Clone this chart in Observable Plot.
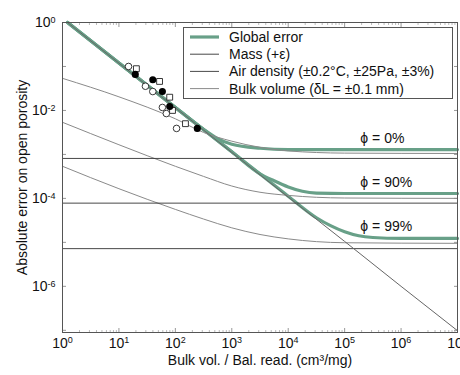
<!DOCTYPE html>
<html>
<head>
<meta charset="utf-8">
<script src="https://cdn.jsdelivr.net/npm/d3@7"></script>
<script src="https://cdn.jsdelivr.net/npm/@observablehq/plot@0.6"></script>
<style>
  html, body { margin: 0; padding: 0; background: #fff; }
  #chart { width: 460px; height: 375px; overflow: hidden; }
  svg { font-family: "Liberation Sans", Arial, sans-serif; }
</style>
</head>
<body>
<div id="chart"></div>
<script>
// ---------- data ----------
// Mass (+epsilon) error line
const massX = [1.23, 10, 100, 1e3, 1e4, 1e5, 1e6, 1e7];
const massY = [1, 0.119, 0.0115, 1.11e-3, 1.07e-4, 1.05e-5, 1.0e-6, 0.98e-7];

// Air density error (constant), per porosity
const porosities = ["0%", "90%", "99%"];
const airY = [8.1e-4, 7.8e-5, 7.2e-6];
const airX = [1, 1e7];

// Bulk volume error curves
const bulkX = [1, 10, 100, 316, 1000, 3162, 1e4, 1e5, 1e7];
const bulk0 = [0.0537, 0.0204, 6.46e-3, 3.16e-3, 2.0e-3, 1.45e-3, 1.20e-3, 1.07e-3, 1.05e-3];
const bulk90 = [5.37e-3, 1.66e-3, 5.37e-4, 3.16e-4, 1.91e-4, 1.38e-4, 1.17e-4, 1.02e-4, 1.0e-4];
const bulk99 = [5.37e-4, 1.66e-4, 5.62e-5, 3.39e-5, 2.14e-5, 1.51e-5, 1.20e-5, 9.8e-6, 9.5e-6];

// Global error curves
const glob0X = [1.23, 10, 100, 316, 562, 1000, 3162, 1e4, 1e5, 1e7];
const glob0Y = [1, 0.12, 0.0117, 3.72e-3, 2.29e-3, 1.70e-3, 1.38e-3, 1.29e-3, 1.29e-3, 1.29e-3];
const glob90X = [1.23, 10, 100, 1000, 3162, 5623, 1e4, 17783, 31623, 1e5, 1e7];
const glob90Y = [1, 0.12, 0.0117, 1.15e-3, 3.63e-4, 2.51e-4, 1.82e-4, 1.45e-4, 1.32e-4, 1.29e-4, 1.29e-4];
const glob99X = [1.23, 10, 100, 1000, 1e4, 31623, 56234, 1e5, 177828, 316228, 1e6, 1e7];
const glob99Y = [1, 0.12, 0.0117, 1.15e-3, 1.12e-4, 3.63e-5, 2.40e-5, 1.74e-5, 1.41e-5, 1.29e-5, 1.23e-5, 1.23e-5];

// Experimental points
const openCircX = [14.8, 29.5, 39.8, 58.9, 69.2, 105];
const openCircY = [0.1, 0.0355, 0.0269, 0.0117, 0.0085, 0.0039];
const openSqX = [20.4, 52.5, 79.4, 89.1, 151];
const openSqY = [0.089, 0.0457, 0.020, 0.010, 0.0050];
const filledX = [19.5, 39.8, 58.9, 79.4, 245];
const filledY = [0.066, 0.050, 0.0269, 0.0123, 0.0039];

// Tick labels
const xTickVals = [1, 10, 100, 1e3, 1e4, 1e5, 1e6, 1e7];
const xTickText = ["10^0", "10^1", "10^2", "10^3", "10^4", "10^5", "10^6", "10^7"];
const yTickVals = [1, 1e-2, 1e-4, 1e-6];
const yTickText = ["10^0", "10^-2", "10^-4", "10^-6"];

// Porosity annotations
const phiLabels = ["ϕ = 0%", "ϕ = 90%", "ϕ = 99%"];
const phiLabelX = [1.9e5, 1.9e5, 1.9e5];
const phiLabelY = [2.3e-3, 2.3e-4, 2.3e-5];

const legendLabels = ["Global error", "Mass (+ε)", "Air density (±0.2°C, ±25Pa, ±3%)", "Bulk volume (δL = ±0.1 mm)"];

// ---------- build tables ----------
const zip = (xs, ys, extra = {}) => xs.map((x, i) => ({x, y: ys[i], ...extra}));
const massData = zip(massX, massY);
const airData = porosities.flatMap((p, i) => airX.map(x => ({x, y: airY[i], p})));
const bulkData = [
  ...zip(bulkX, bulk0, {p: "0%"}),
  ...zip(bulkX, bulk90, {p: "90%"}),
  ...zip(bulkX, bulk99, {p: "99%"})
];
const globData = [
  ...zip(glob0X, glob0Y, {p: "0%"}),
  ...zip(glob90X, glob90Y, {p: "90%"}),
  ...zip(glob99X, glob99Y, {p: "99%"})
];
const xMinor = [];
for (let k = 0; k < 7; k++) for (let m = 2; m <= 9; m++) xMinor.push(m * 10 ** k);
const yMajor = d3.range(0, 8).map(k => 10 ** -k);

const green = "#68a088";
const tickColor = "#999";

const plot = Plot.plot({
  width: 460,
  height: 375,
  marginTop: 22,
  marginRight: 3,
  marginBottom: 43,
  marginLeft: 62,
  style: {fontFamily: "'Liberation Sans', Arial, sans-serif", fontSize: "14px", background: "#fff", color: "#111"},
  x: {type: "log", domain: [1, 1e7]},
  y: {type: "log", domain: [10 ** -7.05, 1]},
  marks: [
    // inward ticks
    Plot.axisX(xTickVals, {anchor: "bottom", tickSize: 4, dy: -4, tickFormat: () => "", stroke: tickColor, label: null}),
    Plot.axisX(xMinor, {anchor: "bottom", tickSize: 2, dy: -2, tickFormat: () => "", stroke: "#bbb", label: null}),
    Plot.axisX(xTickVals, {anchor: "top", tickSize: 4, dy: 4, tickFormat: () => "", stroke: tickColor, label: null}),
    Plot.axisX(xMinor, {anchor: "top", tickSize: 2, dy: 2, tickFormat: () => "", stroke: "#bbb", label: null}),
    Plot.axisY(yMajor, {anchor: "left", tickSize: 4, dx: 4, tickFormat: () => "", stroke: tickColor, label: null}),
    Plot.axisY(yMajor, {anchor: "right", tickSize: 4, dx: -4, tickFormat: () => "", stroke: tickColor, label: null}),
    // curves
    Plot.line(globData, {x: "x", y: "y", z: "p", stroke: green, strokeWidth: 3.2, curve: "monotone-x"}),
    Plot.line(bulkData, {x: "x", y: "y", z: "p", stroke: "#8a8a8a", strokeWidth: 1, curve: "monotone-x"}),
    Plot.line(airData, {x: "x", y: "y", z: "p", stroke: "#333", strokeWidth: 0.9}),
    Plot.line(massData, {x: "x", y: "y", stroke: "#666", strokeWidth: 1}),
    // experimental points
    Plot.dot(zip(openCircX, openCircY), {x: "x", y: "y", r: 3.3, fill: "#fff", stroke: "#222", strokeWidth: 0.9}),
    Plot.dot(zip(openSqX, openSqY), {x: "x", y: "y", r: 3.3, symbol: "square", fill: "#fff", stroke: "#222", strokeWidth: 0.9}),
    Plot.dot(zip(filledX, filledY), {x: "x", y: "y", r: 2.8, fill: "#000", stroke: "#000"}),
    // annotations
    Plot.text(phiLabels, {x: (d, i) => phiLabelX[i], y: (d, i) => phiLabelY[i], text: d => d, textAnchor: "start", fontSize: 14, fill: "#111"}),
    // frame
    Plot.frame({stroke: "#555", strokeWidth: 1}),
    // tick labels
    Plot.text(xTickText, {x: (d, i) => xTickVals[i], frameAnchor: "bottom", dy: 15, textAnchor: "middle", text: d => d, fontSize: 14, fill: "#111"}),
    Plot.text(yTickText, {y: (d, i) => yTickVals[i], frameAnchor: "left", dx: -7, textAnchor: "end", text: d => d, fontSize: 14, fill: "#111"}),
    // axis titles
    Plot.text(["Bulk vol. / Bal. read. (cm³/mg)"], {frameAnchor: "bottom", dy: 32, textAnchor: "middle", text: d => d, fontSize: 14, fill: "#111"}),
    Plot.text(["Absolute error on open porosity"], {frameAnchor: "left", dx: -40, rotate: -90, textAnchor: "middle", text: d => d, fontSize: 14, fill: "#111"})
  ]
});

// superscripts for tick labels
const svg = plot.tagName.toLowerCase() === "svg" ? plot : plot.querySelector("svg");
d3.select(svg).selectAll("text").each(function () {
  const t = this.textContent;
  if (!/^10\^/.test(t)) return;
  const [base, exp] = t.split("^");
  this.textContent = base;
  const ts = document.createElementNS("http://www.w3.org/2000/svg", "tspan");
  ts.setAttribute("dy", "-0.45em");
  ts.setAttribute("font-size", "9px");
  ts.textContent = exp;
  this.appendChild(ts);
});

// legend box
const lg = d3.select(svg).append("g").attr("font-size", 14).attr("fill", "#111").attr("text-anchor", "start");
lg.append("rect").attr("x", 183.5).attr("y", 27.5).attr("width", 269).attr("height", 71)
  .attr("fill", "#fff").attr("stroke", "#555").attr("stroke-width", 1);
const legStyles = [
  {stroke: green, w: 3.2},
  {stroke: "#333", w: 0.9},
  {stroke: "#333", w: 0.9},
  {stroke: "#8a8a8a", w: 1}
];
legendLabels.forEach((lab, i) => {
  const cy = 37 + i * 17.2;
  lg.append("line").attr("x1", 190).attr("x2", 219).attr("y1", cy).attr("y2", cy)
    .attr("stroke", legStyles[i].stroke).attr("stroke-width", legStyles[i].w);
  lg.append("text").attr("x", 229).attr("y", cy).attr("dy", "0.35em").attr("text-anchor", "start").text(lab);
});

document.getElementById("chart").appendChild(plot);
</script>
</body>
</html>
